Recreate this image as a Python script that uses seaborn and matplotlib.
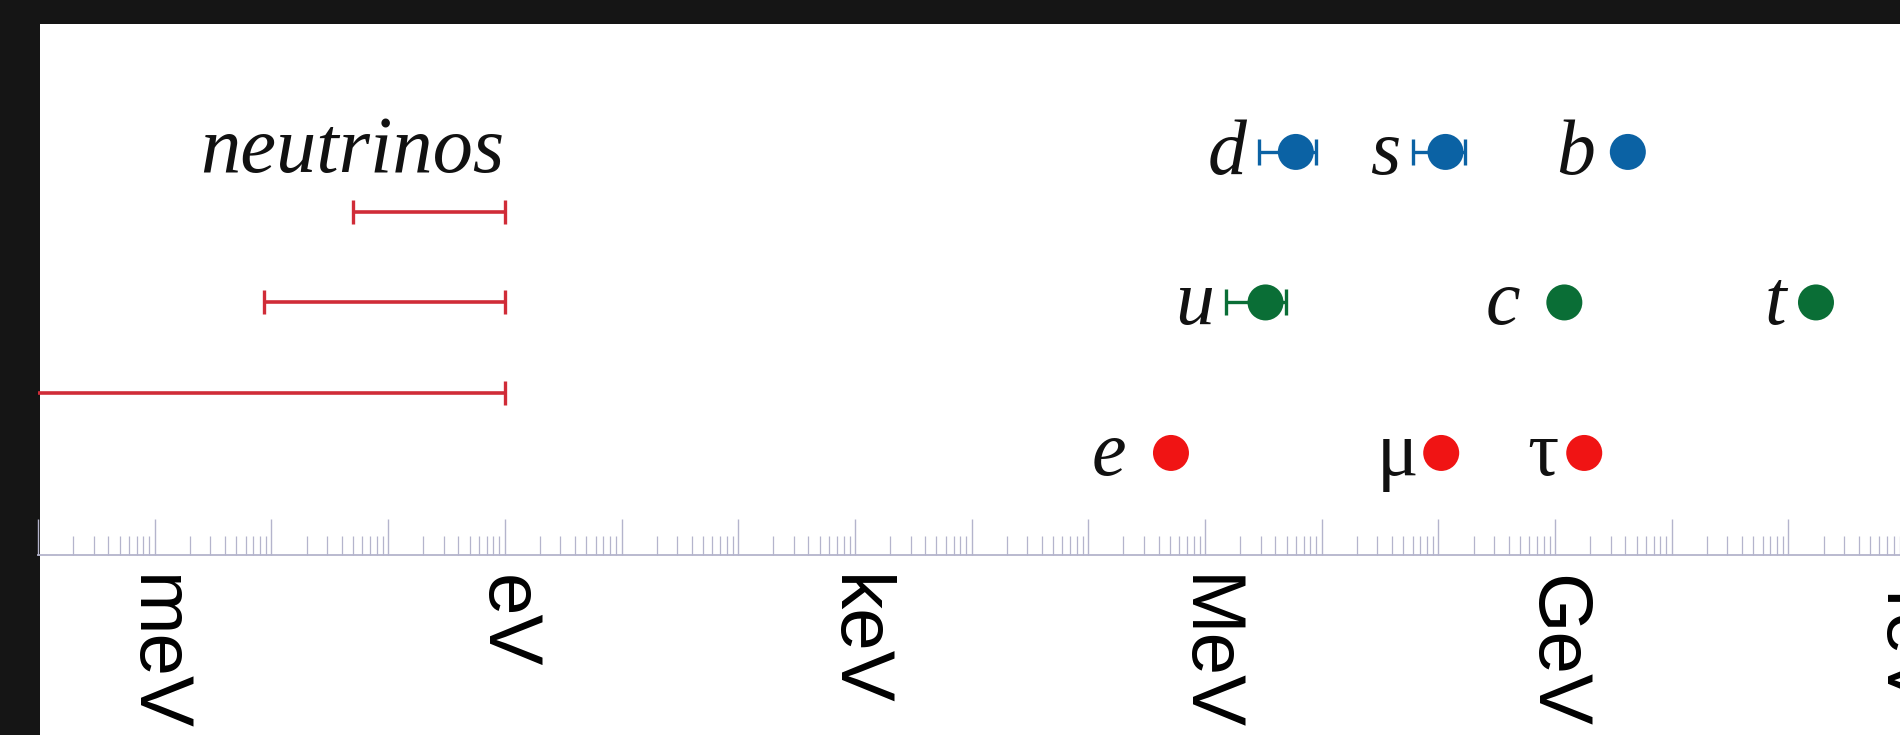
import numpy as np
import pandas as pd
import matplotlib
matplotlib.use("Agg")
import matplotlib.pyplot as plt
import seaborn as sns
from matplotlib.patches import Rectangle
from matplotlib.ticker import FixedLocator, LogLocator, NullFormatter, FuncFormatter

# ------------------------------------------------------------------ data
particles = ["d", "s", "b", "u", "c", "t", "e", "μ", "τ"]
masses_eV = [6.0e6, 1.15e8, 4.2e9, 3.3e6, 1.2e9, 1.72e11, 5.11e5, 1.057e8, 1.777e9]
rows = [3, 3, 3, 2, 2, 2, 1, 1, 1]
groups = ["down", "down", "down", "up", "up", "up", "lepton", "lepton", "lepton"]
err_low_eV = [2.9e6, 6.0e7, np.nan, 1.5e6, np.nan, np.nan, np.nan, np.nan, np.nan]
err_high_eV = [9.0e6, 1.7e8, np.nan, 4.9e6, np.nan, np.nan, np.nan, np.nan, np.nan]
italic_label = [True, True, True, True, True, True, True, False, False]

nu_rows = [2.6, 2.0, 1.4]
nu_low_eV = [5.0e-2, 8.6e-3, 0.0]
nu_high_eV = [1.0, 1.0, 1.0]
nu_label = "neutrinos"

tick_values = [1e-3, 1e0, 1e3, 1e6, 1e9, 1e12]
tick_labels = ["meV", "eV", "keV", "MeV", "GeV", "TeV"]

# ------------------------------------------------------------------ style
W, H, DPI = 1900, 735, 100
PX = 72.0 / DPI  # points per pixel

sns.set_theme(style="white")
plt.rcParams["font.family"] = ["Liberation Sans", "DejaVu Sans"]

palette = {"down": "#0b62a4", "up": "#0a6e36", "lepton": "#f01414"}
nu_color = "#d02c38"
tick_color = "#b4b4cc"
label_gap_px = {"b": 15, "c": 26, "e": 27, "μ": 5, "τ": 8}
default_gap_px = 12
dot_diam_px = 36

fig = plt.figure(figsize=(W / DPI, H / DPI), dpi=DPI, facecolor="#151515")
fig.add_artist(Rectangle((40 / W, 0), 1 - 40 / W, (H - 24) / H,
                         transform=fig.transFigure, facecolor="white",
                         edgecolor="none", zorder=0))

decade_px = 116.7
x_lo_exp, x_hi_exp = -4.0, 12.2
ax_w_px = (x_hi_exp - x_lo_exp) * decade_px
ax = fig.add_axes([38 / W, (H - 555) / H, ax_w_px / W, (555 - 24) / H])
ax.set_facecolor("none")
ax.set_xscale("log")
ax.set_xlim(10 ** x_lo_exp, 10 ** x_hi_exp)
ax.set_ylim(0.322, 3.85)

for side in ["top", "right", "left"]:
    ax.spines[side].set_visible(False)
ax.spines["bottom"].set_color(tick_color)
ax.spines["bottom"].set_linewidth(1.3)

label_map = dict(zip(tick_values, tick_labels))
major_vals = 10.0 ** np.arange(-4, 13)
ax.xaxis.set_major_locator(FixedLocator(major_vals))


def fmt(v, pos):
    for tv, tl in label_map.items():
        if abs(np.log10(v) - np.log10(tv)) < 1e-6:
            return tl
    return ""


ax.xaxis.set_major_formatter(FuncFormatter(fmt))
ax.xaxis.set_minor_locator(LogLocator(base=10, subs=np.arange(2, 10), numticks=200))
ax.xaxis.set_minor_formatter(NullFormatter())
ax.tick_params(axis="x", which="major", bottom=True, direction="in", length=36 * PX,
               width=1.0, color=tick_color, pad=20 * PX, labelsize=55,
               labelrotation=-90, labelcolor="black")
ax.tick_params(axis="x", which="minor", bottom=True, direction="in", length=19 * PX,
               width=0.9, color=tick_color)
ax.tick_params(axis="y", left=False, labelleft=False)
ax.grid(False)

# ------------------------------------------------------------------ neutrinos
nu_low_plot = [lo if lo > 0 else 10 ** (x_lo_exp - 2) for lo in nu_low_eV]
for y, lo, hi in zip(nu_rows, nu_low_plot, nu_high_eV):
    ax.errorbar(hi, y, xerr=[[hi - lo], [0]], fmt="none", ecolor=nu_color,
                elinewidth=2.6, capsize=12 * PX, capthick=2.4, zorder=3)
ax.text(nu_high_eV[0], 2.864, nu_label, ha="right", va="baseline", fontsize=58,
        family="Liberation Serif", style="italic", color="#111111", zorder=5)

# ------------------------------------------------------------------ charged fermions
df = pd.DataFrame({"particle": particles, "mass": masses_eV, "row": rows,
                   "group": groups, "lo": err_low_eV, "hi": err_high_eV})

for _, r in df.dropna(subset=["lo"]).iterrows():
    ax.errorbar(r["mass"], r["row"], xerr=[[r["mass"] - r["lo"]], [r["hi"] - r["mass"]]],
                fmt="none", ecolor=palette[r["group"]], elinewidth=2.4,
                capsize=13 * PX, capthick=2.4, zorder=3)

sns.scatterplot(data=df, x="mass", y="row", hue="group", palette=palette,
                s=(dot_diam_px * PX) ** 2, linewidth=0, legend=False, ax=ax, zorder=4)
ax.set_xlabel("")
ax.set_ylabel("")

for i, r in df.iterrows():
    has_err = not np.isnan(r["lo"])
    anchor = r["lo"] if has_err else r["mass"]
    gap = label_gap_px.get(r["particle"], default_gap_px)
    dx = -(gap + (0 if has_err else dot_diam_px / 2))
    ax.annotate(r["particle"], (anchor, r["row"]), xytext=(dx * PX, -22 * PX),
                textcoords="offset points", ha="right", va="baseline", fontsize=56,
                family="Liberation Serif",
                style="italic" if italic_label[i] else "normal",
                color="#111111", zorder=5)

fig.savefig("out.png", dpi=DPI, facecolor=fig.get_facecolor())
